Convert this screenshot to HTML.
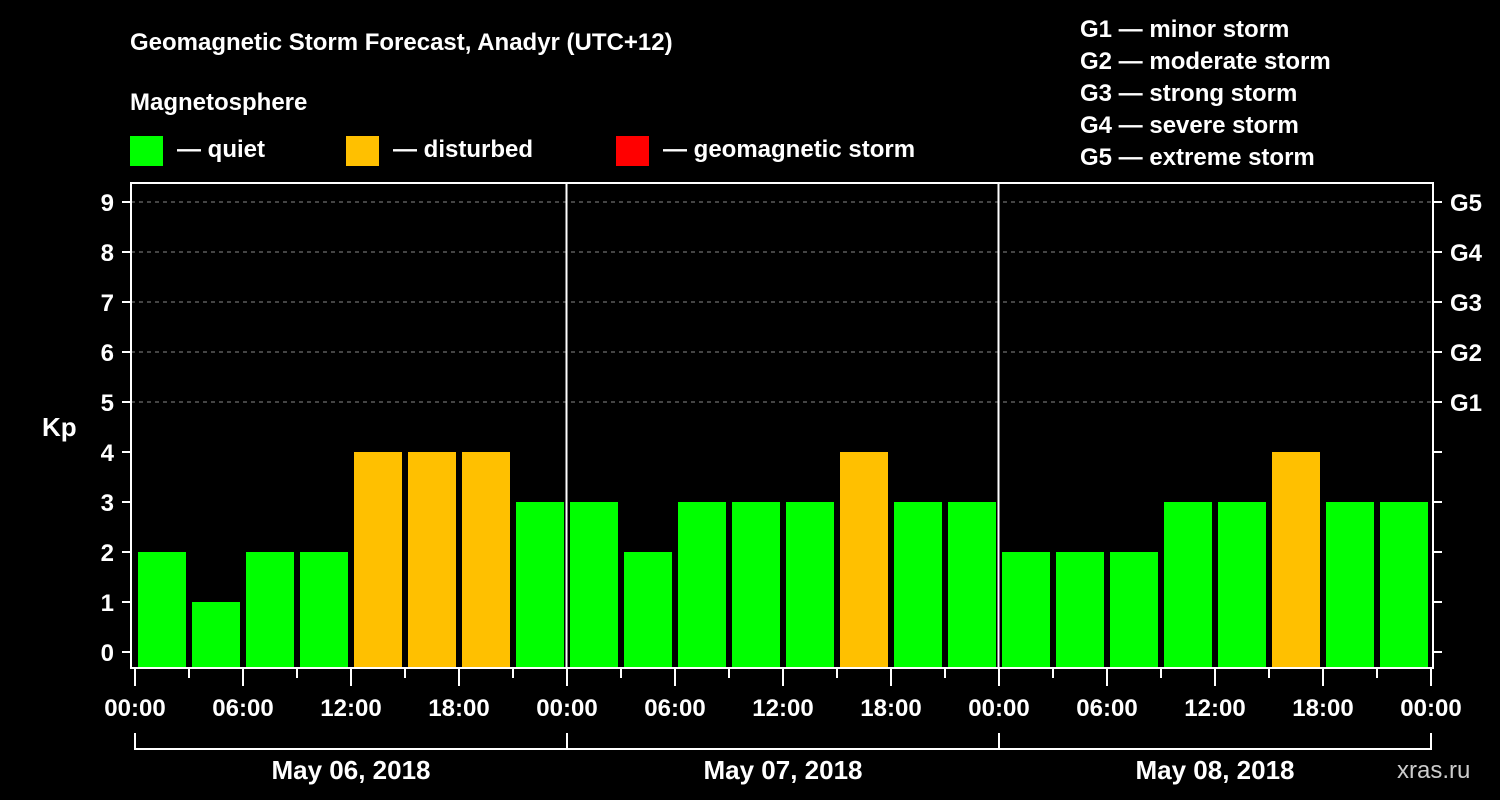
<!DOCTYPE html>
<html><head><meta charset="utf-8"><style>
html,body{margin:0;padding:0;background:#000;}
svg{display:block;font-family:"Liberation Sans",sans-serif;font-weight:bold;}
</style></head><body>
<svg id="c" width="1500" height="800">
<text x="130" y="50" fill="#fff" font-size="24">Geomagnetic Storm Forecast, Anadyr (UTC+12)</text>
<text x="130" y="110" fill="#fff" font-size="24">Magnetosphere</text>
<rect x="130" y="136" width="33" height="30" fill="#00ff00"/>
<text x="177" y="157" fill="#fff" font-size="24">— quiet</text>
<rect x="346" y="136" width="33" height="30" fill="#ffc000"/>
<text x="393" y="157" fill="#fff" font-size="24">— disturbed</text>
<rect x="616" y="136" width="33" height="30" fill="#ff0000"/>
<text x="663" y="157" fill="#fff" font-size="24">— geomagnetic storm</text>
<g fill="#fff" font-size="24">
<text x="1080" y="37">G1 — minor storm</text>
<text x="1080" y="69">G2 — moderate storm</text>
<text x="1080" y="101">G3 — strong storm</text>
<text x="1080" y="133">G4 — severe storm</text>
<text x="1080" y="165">G5 — extreme storm</text>
</g>
<text x="42" y="436" fill="#fff" font-size="26">Kp</text>
<text x="1397" y="778" fill="#ccc" font-size="24" font-weight="normal">xras.ru</text>
<g id="plot"></g>
</svg>
<script>
const values=[2,1,2,2,4,4,4,3, 3,2,3,3,3,4,3,3, 2,2,2,3,3,4,3,3];
const days=["May 06, 2018","May 07, 2018","May 08, 2018"];
const yTicks=[0,1,2,3,4,5,6,7,8,9];
const gLabels=["G1","G2","G3","G4","G5"];
const timeLabels=["00:00","06:00","12:00","18:00"];
const NS="http://www.w3.org/2000/svg";
const X0=134,SLOT=54,TOP=182,BOT=668;
const y=v=>652-50*v;
const x=i=>X0+i*SLOT;
const g=document.getElementById('plot');
function mk(t,a,txt){const e=document.createElementNS(NS,t);for(const k in a)e.setAttribute(k,a[k]);if(txt!==undefined)e.textContent=txt;g.appendChild(e);return e;}
// grid
for(let v=5;v<=9;v++){const l=mk('line',{x1:131,x2:1433,y1:y(v),y2:y(v),stroke:'#888','stroke-dasharray':'4,4','stroke-width':1});

}
// bars
values.forEach((v,i)=>{const c=v>=5?'#ff0000':(v>=4?'#ffc000':'#00ff00');
const r=mk('rect',{x:x(i)+4,y:y(v),width:48,height:BOT-y(v),fill:c});

});
// day separators
for(let d=1;d<3;d++){const l=mk('line',{x1:x(d*8)+0.5,x2:x(d*8)+0.5,y1:TOP,y2:BOT,stroke:'#fff','stroke-width':2});

}
// frame
const f=mk('rect',{x:131,y:183,width:1302,height:485,fill:'none',stroke:'#fff','stroke-width':2});


// y ticks
yTicks.forEach(v=>{mk('line',{x1:122,x2:131,y1:y(v),y2:y(v),stroke:'#fff','stroke-width':2});
mk('line',{x1:1433,x2:1442,y1:y(v),y2:y(v),stroke:'#fff','stroke-width':2});
const t=mk('text',{x:114,y:y(v)+9,fill:'#fff','font-size':24,'text-anchor':'end'},v);

});
gLabels.forEach((s,i)=>{const t=mk('text',{x:1450,y:y(5+i)+9,fill:'#fff','font-size':24},s);

});
// x ticks
for(let i=0;i<=24;i++){const major=i%2==0;
mk('line',{x1:x(i)+1,x2:x(i)+1,y1:668,y2:major?686:678,stroke:'#fff','stroke-width':2});
if(major){const lab=i==24?timeLabels[0]:timeLabels[(i/2)%4];
const t=mk('text',{x:x(i)+1,y:716,fill:'#fff','font-size':24,'text-anchor':'middle'},lab);

}}
// day brackets
days.forEach((d,k)=>{const a=x(k*8)+1,b=x(k*8+8)+1;
mk('path',{d:`M${a} 733V749H${b}V733`,stroke:'#fff','stroke-width':2,fill:'none'});
const t=mk('text',{x:(a+b)/2,y:779,fill:'#fff','font-size':26,'text-anchor':'middle'},d);

});
</script>
</body></html>
